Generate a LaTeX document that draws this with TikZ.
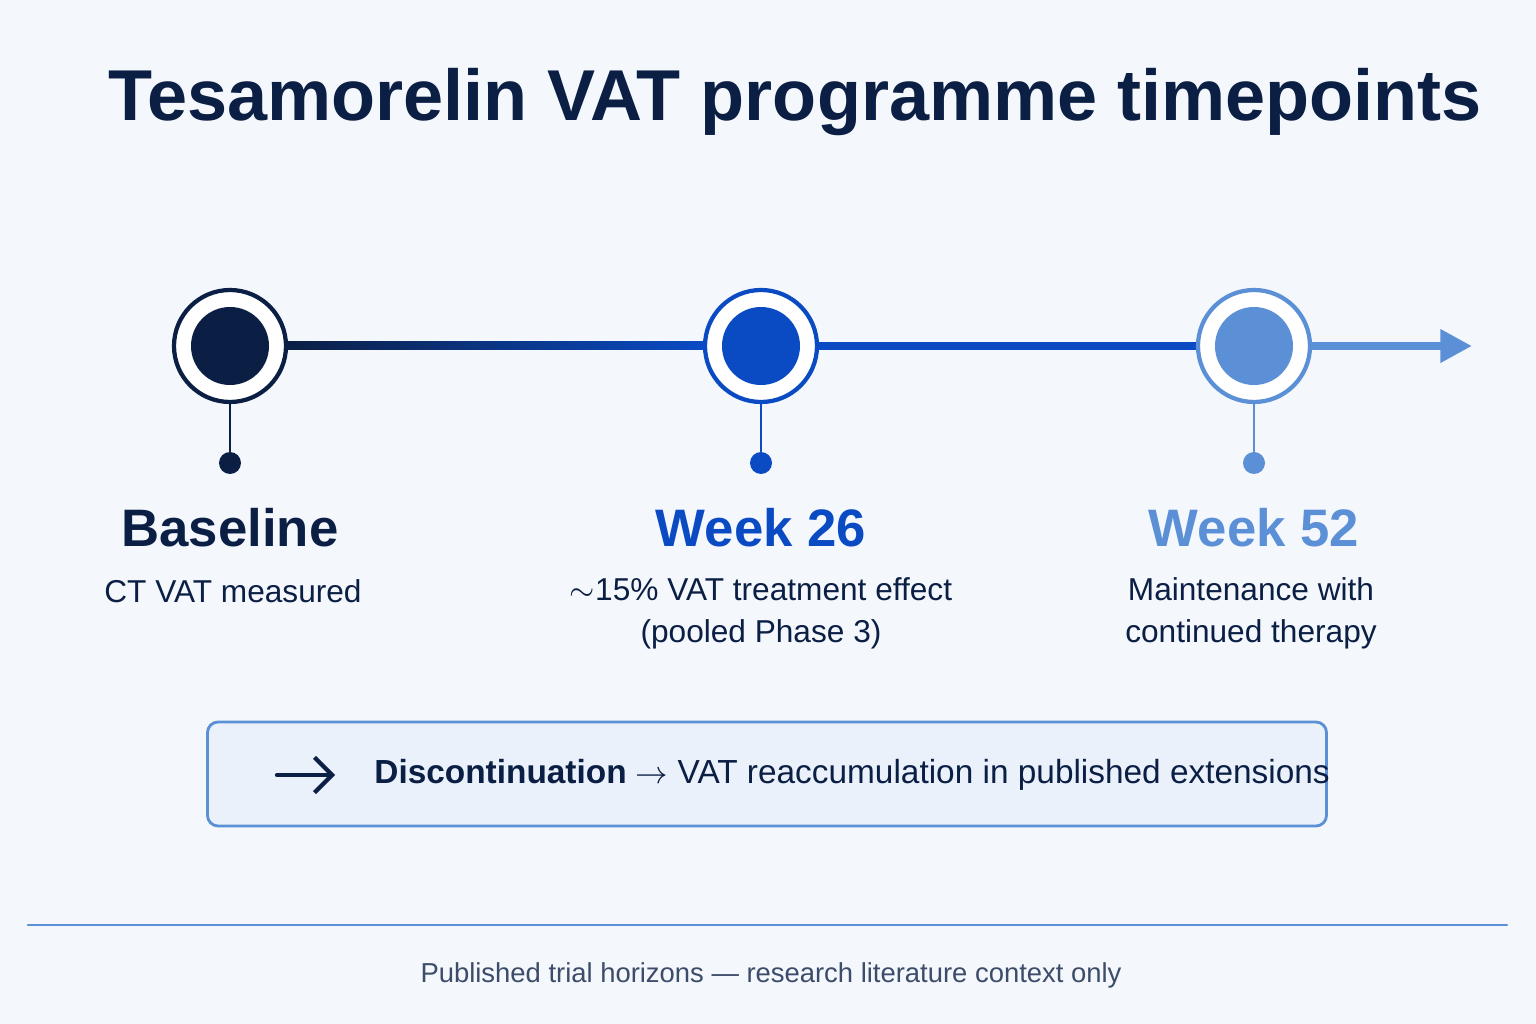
\documentclass[tikz,border=0pt]{standalone}
\usepackage{fontspec}
\setmainfont{Liberation Sans}
\usetikzlibrary{arrows.meta,positioning}
\definecolor{navy}{HTML}{0B1F45}
\definecolor{midblue}{HTML}{0A4BC4}
\definecolor{lightblue}{HTML}{5B8FD6}
\definecolor{bgcol}{HTML}{F4F7FB}
\definecolor{boxfill}{HTML}{EAF1FB}
\tikzset{
  ring/.style={circle,draw=#1,line width=1.2pt,fill=white,minimum size=3.2cm*0.35,inner sep=0pt},
  core/.style={circle,fill=#1,minimum size=0.78cm,inner sep=0pt},
  tip/.style={circle,fill=#1,minimum size=0.22cm,inner sep=0pt},
  head/.style={font=\bfseries\fontsize{15}{18}\selectfont,text=#1},
  sub/.style={font=\fontsize{9}{12}\selectfont,text=navy,align=center},
}
\begin{document}
\begin{tikzpicture}[x=0.1mm,y=-0.1mm,line cap=round,line join=round]
\fill[bgcol] (0,0) rectangle (1536,1024);
\useasboundingbox (0,0) rectangle (1536,1024);
\node[font=\bfseries\fontsize{20.5}{24}\selectfont,text=navy] (title) at (795,102) {Tesamorelin VAT programme timepoints};
% timeline
\coordinate (start) at (288,346);
\coordinate (end) at (1472,346);
\shade[left color=navy,right color=midblue] (288,342) rectangle (705,350);
\draw[midblue,line width=2.3pt] (818,346) -- (1198,346);
\draw[lightblue,line width=2.3pt,-{Triangle[length=9pt,width=9pt]}] (1310,346) -- (end);
% milestones
\foreach \n/\x/\c in {base/230/navy,wk26/761/midblue,wk52/1254/lightblue}{
  \node[ring=\c] (\n) at (\x,346) {};
  \node[core=\c] (\n c) at (\x,346) {};
  \node[tip=\c] (\n d) at (\x,463) {};
  \draw[\c,line width=0.8pt] (\n) -- (\n d);
}
\node[head=navy] (lbase) at (230,528) {Baseline};
\node[sub] (sbase) at (233,591) {CT VAT measured};
\node[head=midblue] (lwk26) at (761,528) {Week 26};
\node[sub] (swk26) at (761,613) {$\sim$15\% VAT treatment effect\\(pooled Phase 3)};
\node[head=lightblue] (lwk52) at (1254,528) {Week 52};
\node[sub] (swk52) at (1251,613) {Maintenance with\\continued therapy};
% note box
\node[draw=lightblue,line width=0.8pt,fill=boxfill,rounded corners=3pt,minimum width=11.19cm,minimum height=1.04cm] (note) at (767,774) {};
\draw[navy,line width=1.2pt,-{Straight Barb[length=5pt]}] (277,775) -- (335,775);
\node[anchor=west,font=\fontsize{9.5}{12}\selectfont,text=navy] (ntext) at (362,775) {\textbf{Discontinuation} $\rightarrow$ VAT reaccumulation in published extensions};
% footer
\draw[lightblue,line width=0.6pt] (28,925) -- (1507,925);
\node[font=\fontsize{7.8}{10}\selectfont,text=navy!80] (foot) at (771,975) {Published trial horizons --- research literature context only};
\end{tikzpicture}
\end{document}
